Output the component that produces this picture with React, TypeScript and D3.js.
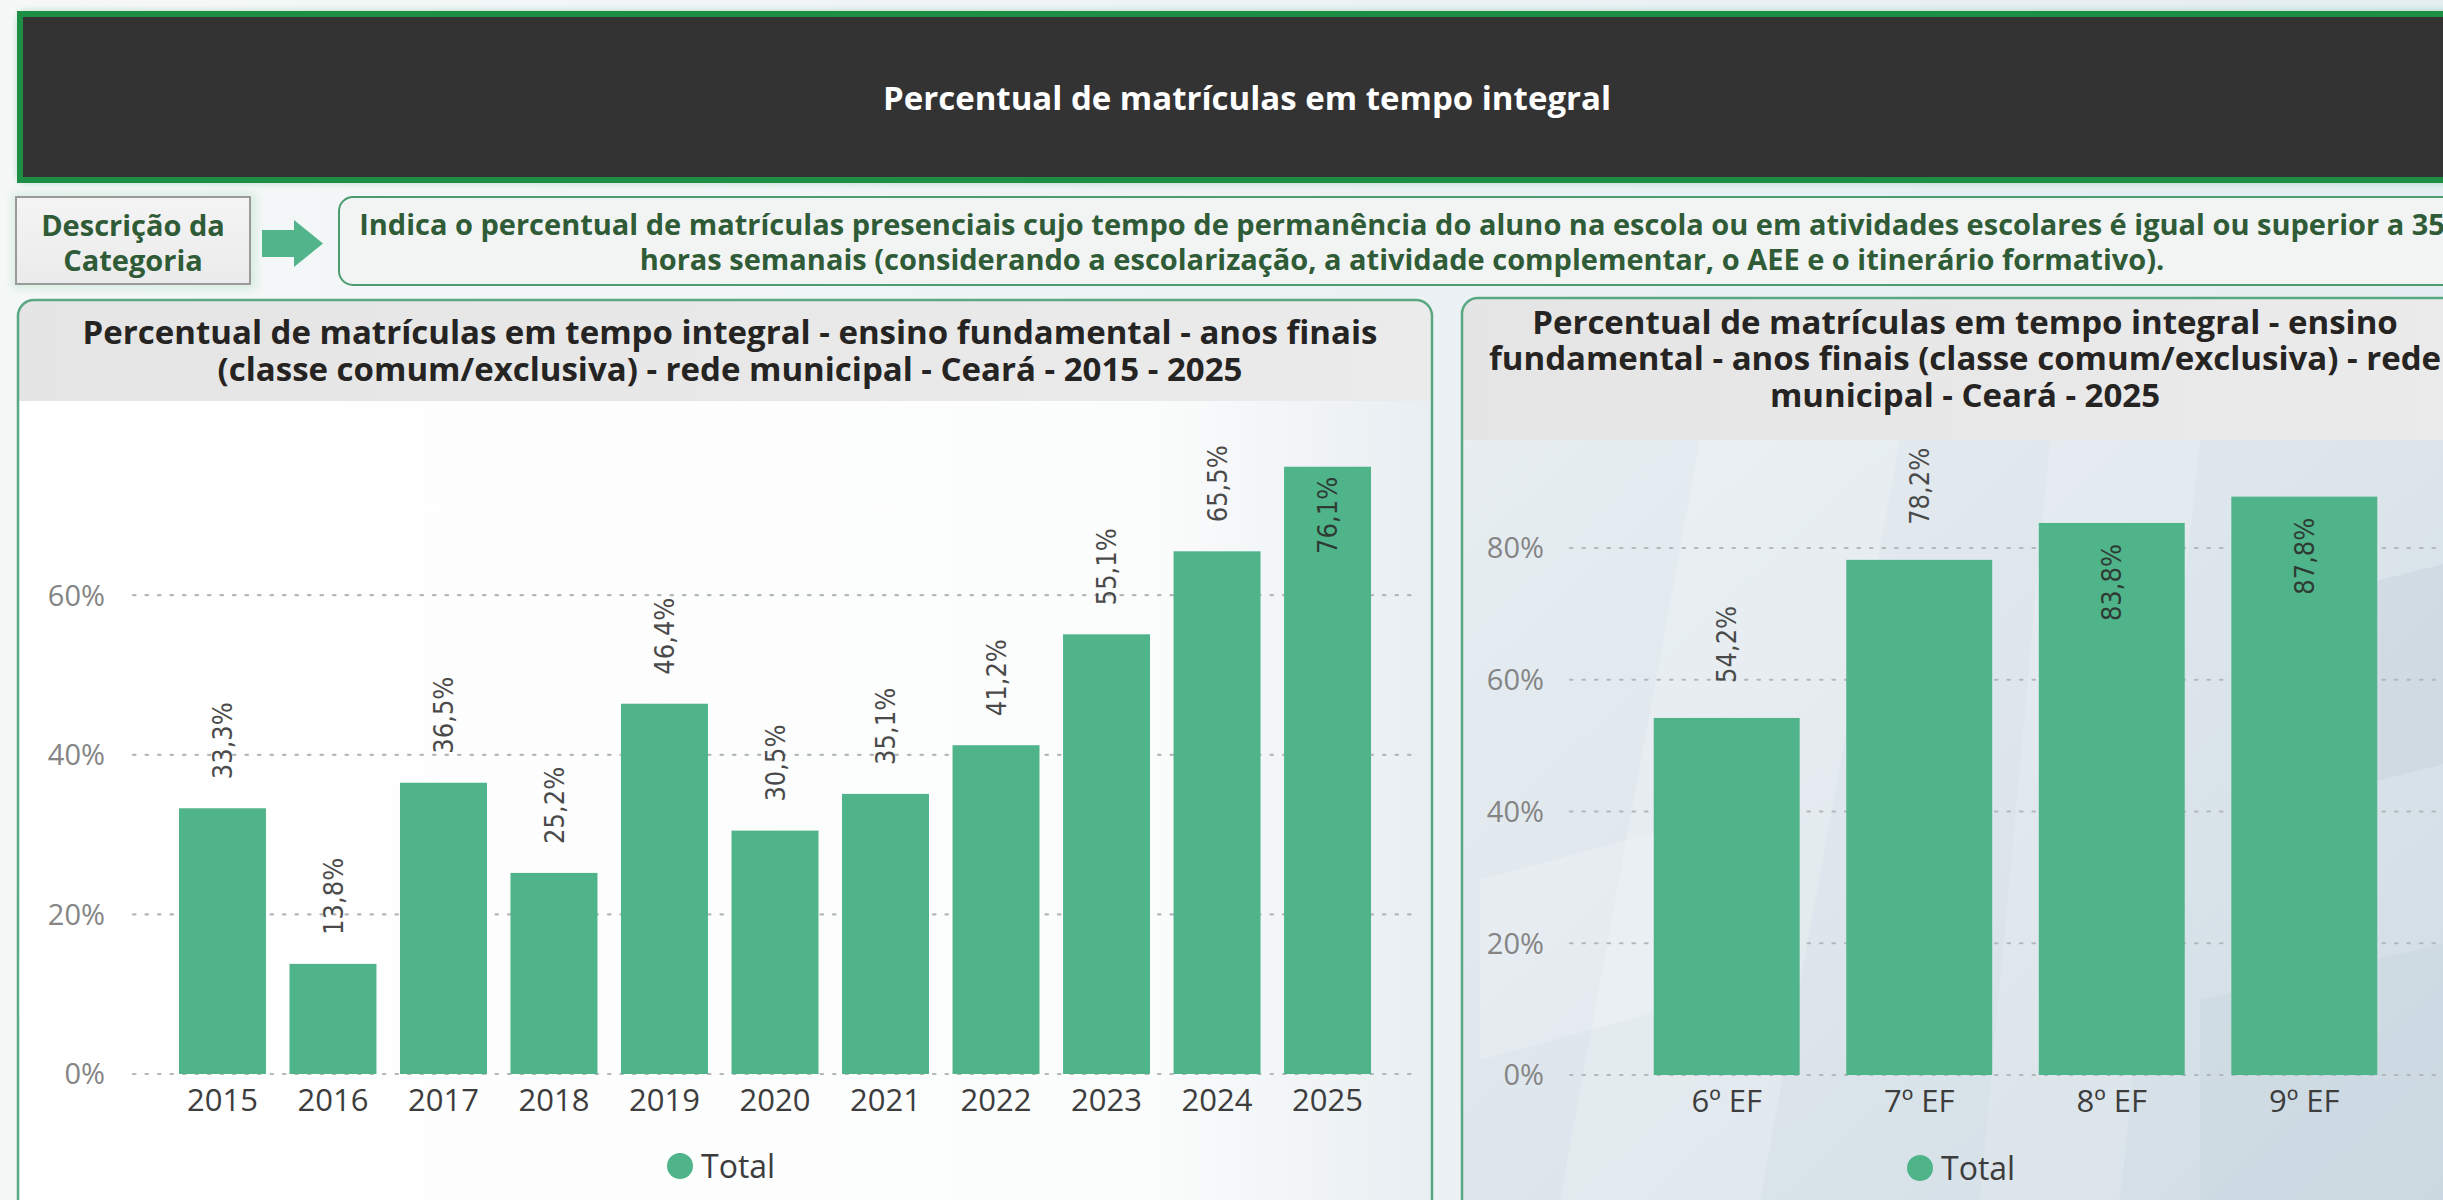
import React, { useEffect } from 'react';
import * as d3 from 'd3';

// ---------- data ----------
const yearCategories = ['2015', '2016', '2017', '2018', '2019', '2020', '2021', '2022', '2023', '2024', '2025'];
const yearValues = [33.3, 13.8, 36.5, 25.2, 46.4, 30.5, 35.1, 41.2, 55.1, 65.5, 76.1];
const yearTicks = [0, 20, 40, 60];

const gradeCategories = ['6º EF', '7º EF', '8º EF', '9º EF'];
const gradeValues = [54.2, 78.2, 83.8, 87.8];
const gradeTicks = [0, 20, 40, 60, 80];

const legendLabel = 'Total';
const headerTitle = 'Percentual de matrículas em tempo integral';
const categoryLabelLines = ['Descrição da', 'Categoria'];
const descriptionLines = [
  'Indica o percentual de matrículas presenciais cujo tempo de permanência do aluno na escola ou em atividades escolares é igual ou superior a 35',
  'horas semanais (considerando a escolarização, a atividade complementar, o AEE e o itinerário formativo).',
];
const leftTitleLines = [
  'Percentual de matrículas em tempo integral - ensino fundamental - anos finais',
  '(classe comum/exclusiva) - rede municipal - Ceará - 2015 - 2025',
];
const rightTitleLines = [
  'Percentual de matrículas em tempo integral - ensino',
  'fundamental - anos finais (classe comum/exclusiva) - rede',
  'municipal - Ceará - 2025',
];

// ---------- styles ----------
const W = 2443;
const H = 1200;
const UI_FONT = "'Open Sans', 'Noto Sans', sans-serif";
const LABEL_FONT = "'Liberation Sans Narrow', 'DejaVu Sans Condensed', Roboto, sans-serif";
const BAR = '#50b48b';
const GREEN_TEXT = '#2f5c37';

const fmtPct = (v: number) => `${v.toFixed(1).replace('.', ',')}%`;

type MultiProps = {
  lines: string[];
  x: number;
  y: number;
  lh: number;
  size: number;
  fill: string;
};

function MultiLine({ lines, x, y, lh, size, fill }: MultiProps) {
  return (
    <text textAnchor="middle" fontFamily={UI_FONT} fontWeight={700} fontSize={size} fill={fill}>
      {lines.map((t, i) => (
        <tspan key={i} x={x} y={y + i * lh} dy="0.36em">
          {t}
        </tspan>
      ))}
    </text>
  );
}

type ChartProps = {
  cats: string[];
  vals: number[];
  ticks: number[];
  xRange: [number, number];
  padIn: number;
  padOut: number;
  yMax: number;
  yRange: [number, number];
  gridX: [number, number];
  tickRight: number;
  outsideGap: number;
  insideGap: number;
  plotTop: number;
  xLabelY: number;
  legendCx: number;
  legendY: number;
};

function BarChart(p: ChartProps) {
  const x = d3.scaleBand<string>().domain(p.cats).range(p.xRange).paddingInner(p.padIn).paddingOuter(p.padOut);
  const y = d3.scaleLinear().domain([0, p.yMax]).range(p.yRange);
  const labelLen = 66;
  return (
    <g>
      {p.ticks.map((t) => (
        <g key={`t${t}`}>
          <line x1={p.gridX[0]} x2={p.gridX[1]} y1={y(t)} y2={y(t)} stroke="#b4b8bb" strokeWidth={2.2} strokeDasharray="2.5 10" strokeLinecap="round" />
          <text x={p.tickRight} y={y(t)} dy="0.36em" textAnchor="end" fontFamily={UI_FONT} fontSize={29} fill="#858585">
            {`${t}%`}
          </text>
        </g>
      ))}
      {p.cats.map((c, i) => {
        const v = p.vals[i];
        const top = y(v);
        const cx = (x(c) as number) + x.bandwidth() / 2;
        const outside = top - p.outsideGap - labelLen >= p.plotTop;
        const ly = outside ? top - p.outsideGap : top + p.insideGap;
        return (
          <g key={c}>
            <rect x={x(c)} y={top} width={x.bandwidth()} height={y(0) - top} fill={BAR} />
            <text
              transform={`translate(${cx},${ly}) rotate(-90)`}
              textAnchor={outside ? 'start' : 'end'}
              dy="0.36em"
              fontFamily={LABEL_FONT}
              fontSize={27}
              fill={outside ? '#4a4a4a' : '#2e3b33'}
            >
              {fmtPct(v)}
            </text>
            <text x={cx} y={p.xLabelY} dy="0.36em" textAnchor="middle" fontFamily={UI_FONT} fontSize={31} fill="#3d3d3d">
              {c}
            </text>
          </g>
        );
      })}
      <circle cx={p.legendCx - 45} cy={p.legendY} r={13} fill={BAR} />
      <text x={p.legendCx - 24} y={p.legendY} dy="0.36em" fontFamily={UI_FONT} fontSize={32} fill="#3d3d3d">
        {legendLabel}
      </text>
    </g>
  );
}

export default function App() {
  useEffect(() => {
    document.body.style.margin = '0';
    document.body.style.overflow = 'hidden';
  }, []);

  const leftPanel = { x: 18, y: 300, w: 1414, h: 940 };
  const rightPanel = { x: 1462, y: 298, w: 1010, h: 940 };

  return (
    <svg width={W} height={H} style={{ position: 'absolute', left: 0, top: 0 }} xmlns="http://www.w3.org/2000/svg">
      <defs>
        <linearGradient id="pageBg" x1="0" y1="0" x2="1" y2="0">
          <stop offset="0" stopColor="#f6f8f8" />
          <stop offset="1" stopColor="#e4edf1" />
        </linearGradient>
        <linearGradient id="leftBg" x1="0" y1="0" x2="1" y2="0">
          <stop offset="0" stopColor="#ffffff" />
          <stop offset="0.8" stopColor="#fbfcfc" />
          <stop offset="1" stopColor="#e8eef2" />
        </linearGradient>
        <linearGradient id="rightBg" x1="0" y1="0" x2="1" y2="1">
          <stop offset="0" stopColor="#e9eff3" />
          <stop offset="0.5" stopColor="#dde6ec" />
          <stop offset="1" stopColor="#cfdbe4" />
        </linearGradient>
        <linearGradient id="titleBg" x1="0" y1="0" x2="1" y2="0">
          <stop offset="0" stopColor="#e5e5e5" />
          <stop offset="1" stopColor="#ebebeb" />
        </linearGradient>
        <linearGradient id="catBg" x1="0" y1="0" x2="0" y2="1">
          <stop offset="0" stopColor="#f4f4f4" />
          <stop offset="1" stopColor="#ebebeb" />
        </linearGradient>
        <filter id="glow" x="-5%" y="-20%" width="110%" height="140%">
          <feGaussianBlur stdDeviation="5" />
        </filter>
        <clipPath id="leftClip">
          <rect x={leftPanel.x} y={leftPanel.y} width={leftPanel.w} height={leftPanel.h} rx={16} />
        </clipPath>
        <clipPath id="rightClip">
          <rect x={rightPanel.x} y={rightPanel.y} width={rightPanel.w} height={rightPanel.h} rx={16} />
        </clipPath>
      </defs>

      <rect x={0} y={0} width={W} height={H} fill="url(#pageBg)" />

      {/* header */}
      <rect x={20} y={14} width={2460} height={166} fill="#1f9a4a" opacity={0.55} filter="url(#glow)" />
      <rect x={20} y={14} width={2460} height={166} fill="#333333" stroke="#1c8f44" strokeWidth={6} />
      <text x={1247} y={98} dy="0.36em" textAnchor="middle" fontFamily={UI_FONT} fontWeight={700} fontSize={33} fill="#ffffff">
        {headerTitle}
      </text>

      {/* category description row */}
      <rect x={12} y={193} width={244} height={96} fill="#cfe9d9" opacity={0.8} filter="url(#glow)" />
      <rect x={16} y={197} width={234} height={87} fill="url(#catBg)" stroke="#9a9a9a" strokeWidth={2} />
      <MultiLine lines={categoryLabelLines} x={133} y={226} lh={35} size={29} fill={GREEN_TEXT} />
      <path d="M262,230 L294,230 L294,220 L323,243.5 L294,267 L294,257 L262,257 Z" fill="#52b48a" />
      <rect x={339} y={197} width={2140} height={88} rx={14} fill="#f2f4f4" stroke="#4b9c70" strokeWidth={2} />
      <MultiLine lines={descriptionLines} x={1402} y={225} lh={35} size={29} fill={GREEN_TEXT} />

      {/* left panel */}
      <g clipPath="url(#leftClip)">
        <rect x={leftPanel.x} y={leftPanel.y} width={leftPanel.w} height={leftPanel.h} fill="url(#leftBg)" />
        <rect x={leftPanel.x} y={leftPanel.y} width={leftPanel.w} height={101} fill="url(#titleBg)" />
      </g>
      <rect x={leftPanel.x} y={leftPanel.y} width={leftPanel.w} height={leftPanel.h} rx={16} fill="none" stroke="#5aa882" strokeWidth={2.5} />
      <MultiLine lines={leftTitleLines} x={730} y={332} lh={37} size={33} fill="#252423" />
      <BarChart
        cats={yearCategories}
        vals={yearValues}
        ticks={yearTicks}
        xRange={[133, 1417]}
        padIn={0.213}
        padOut={0.416}
        yMax={80}
        yRange={[1074, 1074 - 80 * 7.98]}
        gridX={[133, 1417]}
        tickRight={105}
        outsideGap={29}
        insideGap={10}
        plotTop={440}
        xLabelY={1100}
        legendCx={725}
        legendY={1166}
      />

      {/* right panel */}
      <g clipPath="url(#rightClip)">
        <rect x={rightPanel.x} y={rightPanel.y} width={rightPanel.w} height={rightPanel.h} fill="url(#rightBg)" />
        <path d="M1700,440 L1900,440 L1760,1200 L1560,1200 Z" fill="#ffffff" opacity={0.2} />
        <path d="M2050,440 L2200,440 L2120,1200 L1980,1200 Z" fill="#ffffff" opacity={0.16} />
        <path d="M2300,600 L2460,560 L2460,760 L2300,800 Z" fill="#c2d0da" opacity={0.4} />
        <path d="M1480,880 L1700,820 L1700,1000 L1480,1060 Z" fill="#ffffff" opacity={0.2} />
        <path d="M2200,1000 L2460,940 L2460,1200 L2200,1200 Z" fill="#c6d3dd" opacity={0.35} />
        <rect x={rightPanel.x} y={rightPanel.y} width={rightPanel.w} height={142} fill="url(#titleBg)" />
      </g>
      <rect x={rightPanel.x} y={rightPanel.y} width={rightPanel.w} height={rightPanel.h} rx={16} fill="none" stroke="#5aa882" strokeWidth={2.5} />
      <MultiLine lines={rightTitleLines} x={1965} y={322} lh={36.5} size={33} fill="#252423" />
      <BarChart
        cats={gradeCategories}
        vals={gradeValues}
        ticks={gradeTicks}
        xRange={[1570, 2461]}
        padIn={0.242}
        padOut={0.435}
        yMax={80}
        yRange={[1075, 548]}
        gridX={[1570, 2461]}
        tickRight={1544}
        outsideGap={35}
        insideGap={21}
        plotTop={450}
        xLabelY={1101}
        legendCx={1965}
        legendY={1168}
      />
    </svg>
  );
}
